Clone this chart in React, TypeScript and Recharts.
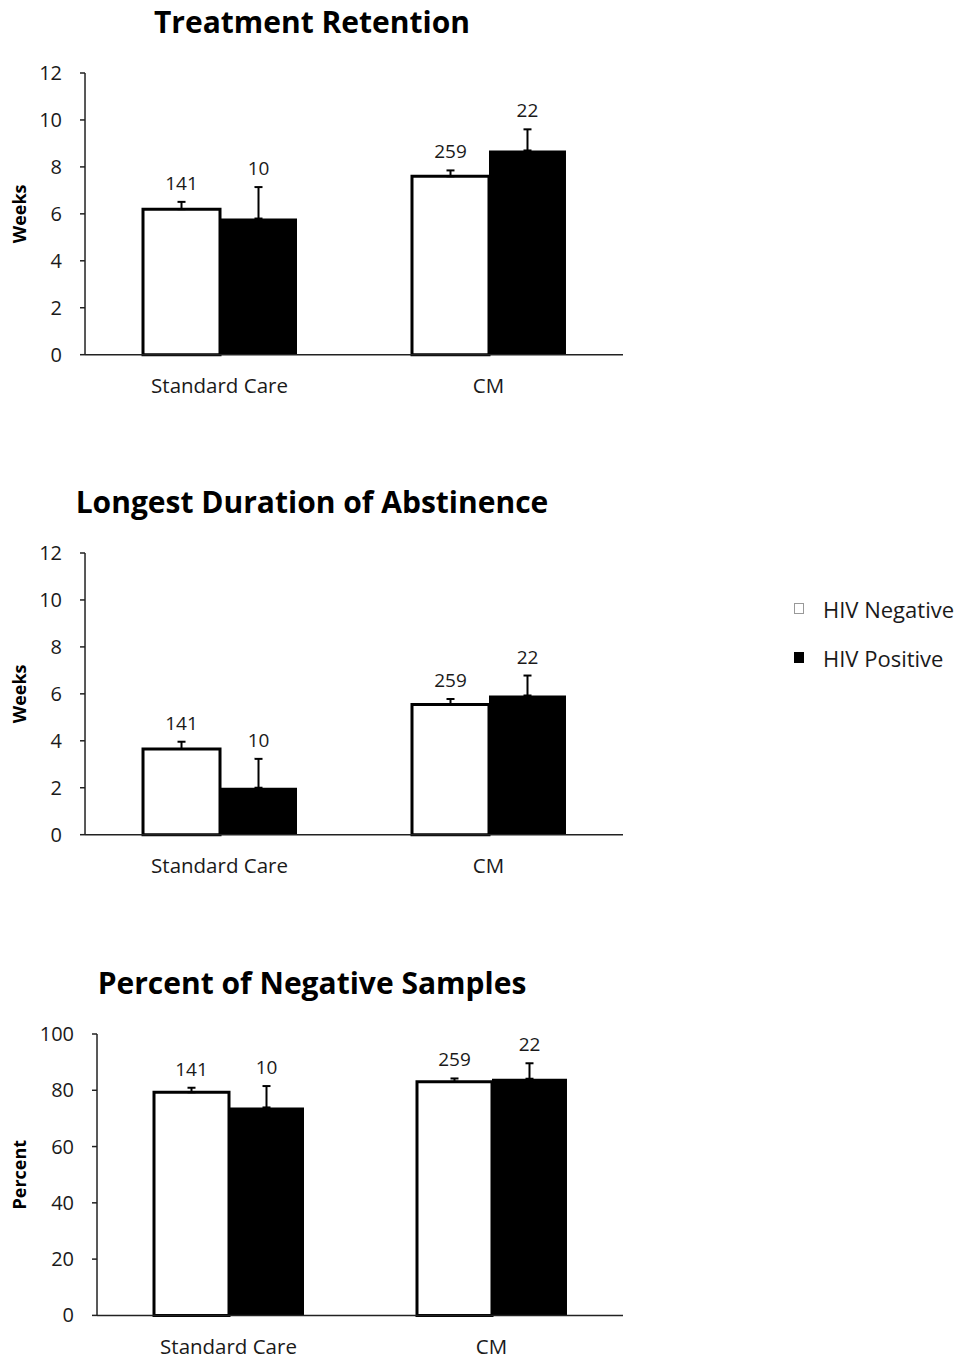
import { BarChart, Bar, XAxis, YAxis, ErrorBar, LabelList, Legend } from "recharts";

const groups = ["Standard Care", "CM"];
const seriesNames = ["HIV Negative", "HIV Positive"];
const sampleNeg = [141, 259];
const samplePos = [10, 22];

// Treatment Retention (weeks)
const retentionNeg = [6.2, 7.6];
const retentionNegErr = [0.31, 0.25];
const retentionPos = [5.8, 8.7];
const retentionPosErr = [1.34, 0.9];

// Longest Duration of Abstinence (weeks)
const abstinenceNeg = [3.65, 5.55];
const abstinenceNegErr = [0.31, 0.23];
const abstinencePos = [2.0, 5.93];
const abstinencePosErr = [1.23, 0.85];

// Percent of Negative Samples
const percentNeg = [79.3, 83.0];
const percentNegErr = [1.6, 1.2];
const percentPos = [73.9, 84.1];
const percentPosErr = [7.6, 5.5];

const weekTicks = [0, 2, 4, 6, 8, 10, 12];
const percentTicks = [0, 20, 40, 60, 80, 100];

const FONT = "'Open Sans', sans-serif";
const INK = "#1a1a1a";

function buildRows(neg: number[], negErr: number[], pos: number[], posErr: number[]) {
  return groups.map((g, i) => ({
    group: g,
    neg: neg[i],
    pos: pos[i],
    negErr: [0, negErr[i]],
    posErr: [0, posErr[i]],
    negN: sampleNeg[i],
    posN: samplePos[i],
  }));
}

// count label sits above the error bar cap
const countLabel = (vals: number[], errs: number[]) => (props: any) => {
  const { x, y, width, height, value, index } = props;
  const v = vals[index];
  const pxPerUnit = v ? height / v : 0;
  const top = y - errs[index] * pxPerUnit;
  return (
    <text x={x + width / 2} y={top - 12} textAnchor="middle" fontSize={19} fill={INK} fontFamily={FONT}>
      {value}
    </text>
  );
};

const renderLegend = (props: any) => {
  const { payload } = props;
  return (
    <div style={{ fontFamily: FONT, fontSize: 22, color: INK }}>
      {payload.map((entry: any, i: number) => (
        <div key={i} style={{ display: "flex", alignItems: "center", height: 24, marginBottom: 25 }}>
          <span
            style={{
              display: "inline-block",
              width: 8,
              height: 9,
              background: entry.color,
              border: entry.color === "#000" ? "1px solid #000" : "1px solid #999",
              marginRight: 19,
            }}
          />
          <span>{entry.value}</span>
        </div>
      ))}
    </div>
  );
};

type PanelProps = {
  title: string;
  yLabel: string;
  neg: number[];
  negErr: number[];
  pos: number[];
  posErr: number[];
  ticks: number[];
  plotTop: number;
  plotBottom: number;
  axisX: number;
  barSize: number;
  legend?: boolean;
};

function Panel({ title, yLabel, neg, negErr, pos, posErr, ticks, plotTop, plotBottom, axisX, barSize, legend }: PanelProps) {
  const rows = buildRows(neg, negErr, pos, posErr);
  const padTop = 30;
  const xAxisH = 45;
  const chartTop = plotTop - padTop;
  const width = legend ? 974 : 640;
  const height = plotBottom - plotTop + padTop + xAxisH;
  const plotRight = 623;
  return (
    <>
      <div
        style={{
          position: "absolute",
          left: 0,
          width: 624,
          top: plotTop - 40 - 26.6,
          textAlign: "center",
          fontFamily: FONT,
          fontWeight: 700,
          fontSize: 30,
          lineHeight: "30px",
          color: "#000",
        }}
      >
        {title}
      </div>
      <div style={{ position: "absolute", left: 0, top: chartTop }}>
        <BarChart
          width={width}
          height={height}
          data={rows}
          margin={{ top: padTop, right: width - plotRight, left: 0, bottom: 0 }}
          barGap={0}
        >
          <XAxis
            dataKey="group"
            height={xAxisH}
            interval={0}
            tickLine={false}
            tickSize={0}
            tickMargin={24}
            axisLine={{ stroke: "#222", strokeWidth: 1.5 }}
            tick={{ fontSize: 20.5, fill: INK, fontFamily: FONT }}
          />
          <YAxis
            width={axisX}
            domain={[ticks[0], ticks[ticks.length - 1]]}
            ticks={ticks}
            interval={0}
            tickSize={5}
            tickMargin={18}
            axisLine={{ stroke: "#222", strokeWidth: 1.5 }}
            tickLine={{ stroke: "#222", strokeWidth: 1.5 }}
            tick={{ fontSize: 20, fill: INK, fontFamily: FONT }}
            label={{
              value: yLabel,
              angle: -90,
              position: "insideLeft",
              offset: 20,
              style: { textAnchor: "middle", fontSize: 18, fontWeight: 700, fill: "#000", fontFamily: FONT },
            }}
          />
          {legend && (
            <Legend
              layout="horizontal"
              verticalAlign="middle"
              align="center"
              content={renderLegend}
              wrapperStyle={{ position: "absolute", left: 794, top: 597 - chartTop, width: 180 }}
            />
          )}
          <Bar
            dataKey="neg"
            name={seriesNames[0]}
            fill="#fff"
            stroke="#000"
            strokeWidth={3}
            barSize={barSize}
            isAnimationActive={false}
          >
            <ErrorBar dataKey="negErr" direction="y" width={4} stroke="#000" strokeWidth={2} />
            <LabelList dataKey="negN" content={countLabel(neg, negErr)} />
          </Bar>
          <Bar dataKey="pos" name={seriesNames[1]} fill="#000" barSize={barSize} isAnimationActive={false}>
            <ErrorBar dataKey="posErr" direction="y" width={4} stroke="#000" strokeWidth={2} />
            <LabelList dataKey="posN" content={countLabel(pos, posErr)} />
          </Bar>
        </BarChart>
      </div>
    </>
  );
}

export default function App() {
  return (
    <div style={{ position: "absolute", left: 0, top: 0, width: 974, height: 1361, background: "#fff" }}>
      <Panel
        title="Treatment Retention"
        yLabel="Weeks"
        neg={retentionNeg}
        negErr={retentionNegErr}
        pos={retentionPos}
        posErr={retentionPosErr}
        ticks={weekTicks}
        plotTop={73.3}
        plotBottom={355}
        axisX={85}
        barSize={77}
      />
      <Panel
        title="Longest Duration of Abstinence"
        yLabel="Weeks"
        neg={abstinenceNeg}
        negErr={abstinenceNegErr}
        pos={abstinencePos}
        posErr={abstinencePosErr}
        ticks={weekTicks}
        plotTop={553.3}
        plotBottom={835}
        axisX={85}
        barSize={77}
        legend
      />
      <Panel
        title="Percent of Negative Samples"
        yLabel="Percent"
        neg={percentNeg}
        negErr={percentNegErr}
        pos={percentPos}
        posErr={percentPosErr}
        ticks={percentTicks}
        plotTop={1034.3}
        plotBottom={1315.7}
        axisX={97}
        barSize={75}
      />
    </div>
  );
}
